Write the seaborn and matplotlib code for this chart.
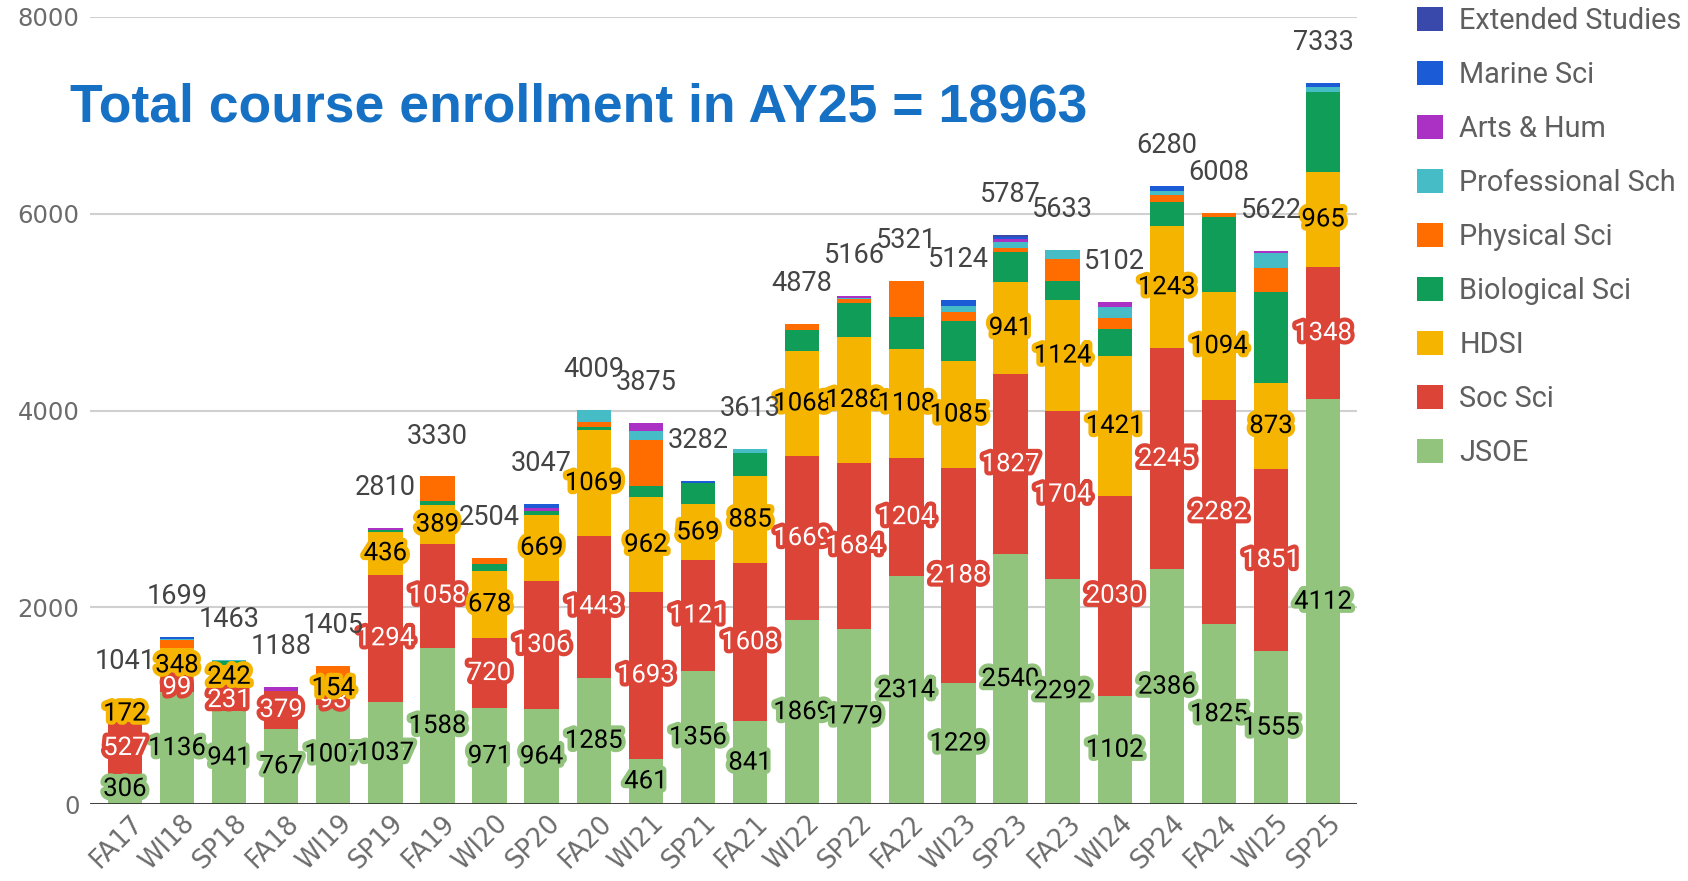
import matplotlib
matplotlib.use("Agg")
import matplotlib.pyplot as plt
import matplotlib.patheffects as pe
import matplotlib.transforms as mtransforms
from matplotlib.patches import Patch
import numpy as np
import pandas as pd
import seaborn as sns

terms = ["FA17", "WI18", "SP18", "FA18", "WI19", "SP19", "FA19", "WI20", "SP20", "FA20",
         "WI21", "SP21", "FA21", "WI22", "SP22", "FA22", "WI23", "SP23", "FA23", "WI24",
         "SP24", "FA24", "WI25", "SP25"]

jsoe = [306, 1136, 941, 767, 1007, 1037, 1588, 971, 964, 1285, 461, 1356, 841, 1869,
        1779, 2314, 1229, 2540, 2292, 1102, 2386, 1825, 1555, 4112]
soc_sci = [527, 99, 231, 379, 93, 1294, 1058, 720, 1306, 1443, 1693, 1121, 1608, 1669,
           1684, 1204, 2188, 1827, 1704, 2030, 2245, 2282, 1851, 1348]
hdsi = [172, 348, 242, 0, 154, 436, 389, 678, 669, 1069, 962, 569, 885, 1068,
        1288, 1108, 1085, 941, 1124, 1421, 1243, 1094, 873, 965]
bio_sci = [12, 0, 40, 0, 10, 21, 40, 70, 38, 34, 113, 212, 232, 210,
           338, 328, 412, 303, 200, 278, 249, 763, 926, 815]
phys_sci = [12, 82, 0, 0, 141, 0, 255, 65, 0, 48, 472, 0, 0, 62,
            40, 367, 88, 40, 218, 114, 70, 44, 244, 0]
prof_sch = [0, 8, 9, 0, 0, 0, 0, 0, 0, 130, 90, 0, 47, 0,
            17, 0, 65, 65, 95, 110, 42, 0, 148, 50]
arts_hum = [12, 0, 0, 42, 0, 22, 0, 0, 28, 0, 84, 0, 0, 0,
            20, 0, 0, 30, 0, 47, 0, 0, 25, 0]
marine_sci = [0, 26, 0, 0, 0, 0, 0, 0, 42, 0, 0, 24, 0, 0,
              0, 0, 57, 21, 0, 0, 45, 0, 0, 43]
ext_studies = [0, 0, 0, 0, 0, 0, 0, 0, 0, 0, 0, 0, 0, 0,
               0, 0, 0, 20, 0, 0, 0, 0, 0, 0]

series_names = ["JSOE", "Soc Sci", "HDSI", "Biological Sci", "Physical Sci",
                "Professional Sch", "Arts & Hum", "Marine Sci", "Extended Studies"]
series_values = [jsoe, soc_sci, hdsi, bio_sci, phys_sci, prof_sch, arts_hum, marine_sci, ext_studies]
series_colors = ["#93c47d", "#db4437", "#f4b400", "#0f9d58", "#ff6d00",
                 "#46bdc6", "#ab30c4", "#1c5bd6", "#3949ab"]
labelled = {"JSOE": "black", "Soc Sci": "white", "HDSI": "black"}

title_text = "Total course enrollment in AY25 = 18963"

W, H = 1688, 881
fig = plt.figure(figsize=(W / 100, H / 100), dpi=100)
ax = fig.add_axes([90 / W, 1 - 804 / H, (1357 - 90) / W, (804 - 17) / H])

sns.set_style("white")
plt.rcParams["font.family"] = ["Roboto", "DejaVu Sans"]

bottom = np.zeros(len(terms))
label_jobs = []
for name, vals, col in zip(series_names, series_values, series_colors):
    df = pd.DataFrame({"term": terms, "value": vals})
    sns.barplot(data=df, x="term", y="value", order=terms, color=col, width=0.66,
                errorbar=None, bottom=bottom.copy(), ax=ax, saturation=1,
                linewidth=0, zorder=2)
    if name in labelled:
        for i, v in enumerate(vals):
            if v > 0:
                label_jobs.append((i, bottom[i] + v / 2, str(v), labelled[name], col))
    bottom = bottom + np.array(vals)

for i, y, s, tc, oc in label_jobs:
    ax.text(i, y, s, ha="center", va="center", fontsize=18.5, color=tc,
            family=["Roboto", "DejaVu Sans"], zorder=5,
            path_effects=[pe.withStroke(linewidth=6, foreground=oc)])

for i, t in enumerate(bottom):
    ax.annotate(f"{int(t)}", (i, t), xytext=(0, 29), textcoords="offset points",
                ha="center", va="center", fontsize=19.5, color="#444444",
                family=["Roboto", "DejaVu Sans"], zorder=6)

ax.set_ylim(0, 8000)
ax.set_xlim(-0.67, len(terms) - 0.35)
ax.set_yticks([0, 2000, 4000, 6000, 8000])
ax.set_yticklabels(["0", "2000", "4000", "6000", "8000"])
ax.yaxis.grid(True, color="#d0d0d0", linewidth=1.5, zorder=0)
ax.set_axisbelow(True)
ax.axhline(0, color="#333333", linewidth=2, zorder=4)
for sp in ax.spines.values():
    sp.set_visible(False)
ax.set_xlabel("")
ax.set_ylabel("")
ax.tick_params(axis="y", length=0, pad=7.5, labelsize=17.5, labelcolor="#6b6b6b")
ax.tick_params(axis="x", length=0, pad=6, labelsize=18.5, labelcolor="#6b6b6b")
shift = mtransforms.ScaledTranslation(14 / 100, -7 / 100, fig.dpi_scale_trans)
for lab in ax.get_xticklabels():
    lab.set_rotation(45)
    lab.set_ha("right")
    lab.set_rotation_mode("anchor")
    lab.set_va("center")
    lab.set_transform(lab.get_transform() + shift)

fig.text(70 / W, 1 - 108 / H, title_text, ha="left", va="center", fontsize=38.5,
         fontweight="bold", color="#1670c4", family=["Liberation Sans", "DejaVu Sans"])

handles = [Patch(facecolor=c, edgecolor="none", label=n)
           for n, c in zip(series_names[::-1], series_colors[::-1])]
leg = fig.legend(handles=handles, loc="upper left", bbox_to_anchor=(1417 / W, 1 - 7 / H),
                 frameon=False, fontsize=20.8, handlelength=0.9, handleheight=0.9,
                 handletextpad=0.57, labelspacing=0.9, borderpad=0, borderaxespad=0)
for t in leg.get_texts():
    t.set_color("#5f5f5f")

fig.savefig("out.png", dpi=100)
